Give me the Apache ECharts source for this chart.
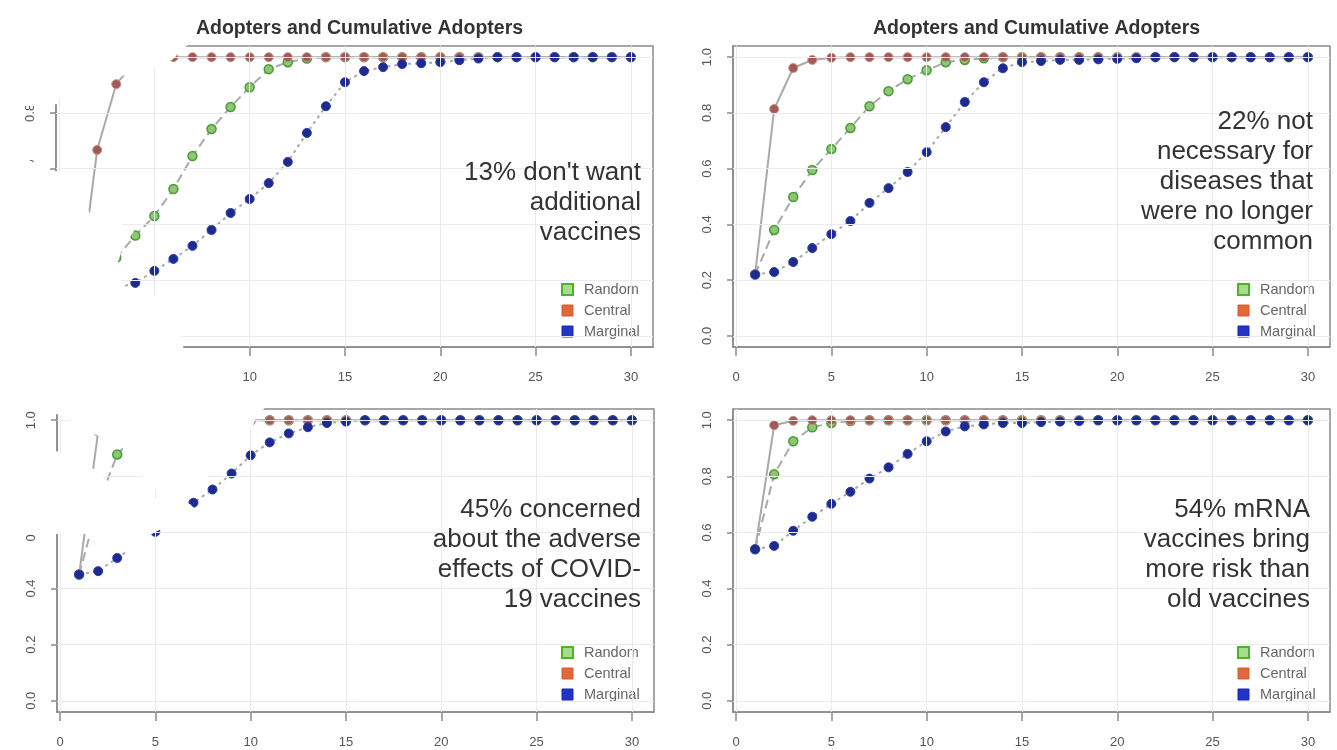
<!DOCTYPE html>
<html>
<head>
<meta charset="utf-8">
<script src="https://cdn.jsdelivr.net/npm/echarts@6/dist/echarts.min.js"></script>
<style>
html,body{margin:0;padding:0;background:#fff;}
#chart{width:1337px;height:750px;}
</style>
</head>
<body>
<div id="chart"></div>
<script>
// ---------------- data ----------------
const steps = [1,2,3,4,5,6,7,8,9,10,11,12,13,14,15,16,17,18,19,20,21,22,23,24,25,26,27,28,29,30];
const xTicks = [0,5,10,15,20,25,30];
const yTicks = [0,0.2,0.4,0.6,0.8,1.0];
const yTickLabels = ['0.0','0.2','0.4','0.6','0.8','1.0'];
const seriesNames = ['Random','Central','Marginal'];
const panelTitle = 'Adopters and Cumulative Adopters';

// panel 1 (top-left): 13% don't want additional vaccines
const tlRandom   = [0.13,0.21,0.28,0.36,0.43,0.527,0.645,0.742,0.821,0.892,0.957,0.982,0.995,1,1,1,1,1,1,1,1,1,1,1,1,1,1,1,1,1];
const tlCentral  = [0.13,0.667,0.903,0.985,0.998,1,1,1,1,1,1,1,1,1,1,1,1,1,1,1,1,1,1,1,1,1,1,1,1,1];
const tlMarginal = [0.13,0.15,0.17,0.19,0.233,0.276,0.323,0.38,0.441,0.491,0.548,0.624,0.728,0.824,0.91,0.95,0.964,0.975,0.978,0.982,0.989,0.995,1,1,1,1,1,1,1,1];
// panel 2 (top-right): 22% not necessary
const trRandom   = [0.22,0.38,0.498,0.595,0.67,0.746,0.824,0.878,0.921,0.953,0.982,0.99,0.996,1,1,1,1,1,1,1,1,1,1,1,1,1,1,1,1,1];
const trCentral  = [0.22,0.814,0.961,0.99,0.998,1,1,1,1,1,1,1,1,1,1,1,1,1,1,1,1,1,1,1,1,1,1,1,1,1];
const trMarginal = [0.22,0.229,0.265,0.315,0.365,0.412,0.477,0.53,0.588,0.659,0.749,0.839,0.91,0.96,0.982,0.986,0.99,0.99,0.992,0.994,0.996,1,1,1,1,1,1,1,1,1];
// panel 3 (bottom-left): 45% concerned about adverse effects
const blRandom   = [0.45,0.70,0.878,0.95,0.98,0.99,0.995,1,1,1,1,1,1,1,1,1,1,1,1,1,1,1,1,1,1,1,1,1,1,1];
const blCentral  = [0.45,0.96,0.99,0.998,1,1,1,1,1,1,1,1,1,1,1,1,1,1,1,1,1,1,1,1,1,1,1,1,1,1];
const blMarginal = [0.45,0.462,0.509,0.555,0.602,0.655,0.706,0.753,0.81,0.875,0.921,0.953,0.975,0.99,0.995,1,1,1,1,1,1,1,1,1,1,1,1,1,1,1];
// panel 4 (bottom-right): 54% mRNA more risk
const brRandom   = [0.54,0.807,0.925,0.975,0.99,0.997,1,1,1,1,1,1,1,1,1,1,1,1,1,1,1,1,1,1,1,1,1,1,1,1];
const brCentral  = [0.54,0.982,0.998,1,1,1,1,1,1,1,1,1,1,1,1,1,1,1,1,1,1,1,1,1,1,1,1,1,1,1];
const brMarginal = [0.54,0.552,0.606,0.656,0.702,0.745,0.792,0.832,0.88,0.925,0.96,0.978,0.985,0.99,0.99,0.993,0.995,0.997,1,1,1,1,1,1,1,1,1,1,1,1];

const annotations = [
  ["13% don't want","additional","vaccines"],
  ["22% not","necessary for","diseases that","were no longer","common"],
  ["45% concerned","about the adverse","effects of COVID-","19 vaccines"],
  ["54% mRNA","vaccines bring","more risk than","old vaccines"]
];

// ---------------- layout / style ----------------
const FONT = '"Liberation Sans", Arial, Helvetica, sans-serif';
const panels = [
  {grid:{left:56, top:46, width:597, height:301}, data:[tlRandom,tlCentral,tlMarginal], title:true,  textX:641,  textY:203, legendLeft:556,  legendTop:277},
  {grid:{left:733,top:46, width:597, height:301}, data:[trRandom,trCentral,trMarginal], title:true,  textX:1313, textY:182, legendLeft:1232, legendTop:277},
  {grid:{left:57, top:409,width:597, height:303}, data:[blRandom,blCentral,blMarginal], title:false, textX:641,  textY:555, legendLeft:556,  legendTop:640},
  {grid:{left:733,top:409,width:597, height:303}, data:[brRandom,brCentral,brMarginal], title:false, textX:1310, textY:555, legendLeft:1232, legendTop:640}
];

const pointStyles = [
  {color:'#8cc873', borderColor:'#4e9a38', borderWidth:1.5},
  {color:'#a25a55', borderColor:'#c4918c', borderWidth:1},
  {color:'#1d2a8e', borderColor:'#2a3aae', borderWidth:1}
];
const lineTypes = [[9,5],'solid',[3,4]];
const legendColors = [
  {color:'#a6dc8c', borderColor:'#50b030', borderWidth:2},
  {color:'#e2683a', borderColor:'#d45a2c', borderWidth:1},
  {color:'#2233c8', borderColor:'#1a2ab0', borderWidth:1}
];

const grids = [], xAxes = [], yAxes = [], series = [], legends = [], titles = [], graphics = [];

panels.forEach((p, i) => {
  grids.push(Object.assign({show:true, borderColor:'#8a8a8a', borderWidth:1.5, backgroundColor:'transparent'}, p.grid));
  xAxes.push({
    type:'value', gridIndex:i, min:-0.16, max:31.16,
    axisLine:{show:true, onZero:false, lineStyle:{color:'#8a8a8a', width:1.5}},
    axisTick:{show:true, customValues:xTicks, length:9, lineStyle:{color:'#8a8a8a', width:1.5}},
    axisLabel:{show:true, customValues:xTicks, margin:24, color:'#555', fontSize:13, fontFamily:FONT},
    splitLine:{show:false}
  });
  yAxes.push({
    type:'value', gridIndex:i, min:-0.04, max:1.04,
    axisLine:{show:true, onZero:false, lineStyle:{color:'#8a8a8a', width:1.5}},
    axisTick:{show:true, customValues:yTicks, length:6, lineStyle:{color:'#8a8a8a', width:1.5}},
    axisLabel:{show:true, customValues:yTicks, rotate:90, margin:19, color:'#555', fontSize:13, fontFamily:FONT,
      formatter:(v)=>{const k=yTicks.indexOf(v); return k>=0 ? yTickLabels[k] : v.toFixed(1);}},
    splitLine:{show:false}
  });
  p.data.forEach((vals, s) => {
    const ser = {
      type:'line', name:seriesNames[s], xAxisIndex:i, yAxisIndex:i,
      data: steps.map((x, k) => [x, vals[k]]),
      symbol:'circle', symbolSize:9, showAllSymbol:true,
      lineStyle:{color:'#a9a9a9', width:2, type:lineTypes[s]},
      itemStyle:pointStyles[s],
      emphasis:{disabled:true},
      animation:false, z:2+s
    };
    if (s === 0) {
      ser.markLine = {
        silent:true, symbol:['none','none'], label:{show:false}, animation:false,
        lineStyle:{color:'#ebebeb', type:'solid', width:1},
        data: xTicks.map(v=>({xAxis:v})).concat(yTicks.map(v=>({yAxis:v})))
      };
    }
    series.push(ser);
  });
  legends.push({
    orient:'vertical', left:p.legendLeft, top:p.legendTop,
    itemWidth:11, itemHeight:11, itemGap:6, selectedMode:false,
    textStyle:{color:'#666', fontSize:14.5, fontFamily:FONT, padding:[0,0,0,6], lineHeight:14},
    data: seriesNames.map((n, s)=>({name:n, icon:'rect', itemStyle:legendColors[s]}))
  });
  if (p.title) {
    titles.push({
      text:panelTitle, left:p.grid.left + p.grid.width/2, top:14, textAlign:'center',
      textStyle:{fontSize:19.5, fontWeight:'bold', color:'#333', fontFamily:FONT}
    });
  }
  graphics.push({
    type:'text', z:60, x:p.textX, y:p.textY,
    style:{text:annotations[i].join('\n'), textAlign:'right', textVerticalAlign:'middle',
      font:'26px ' + FONT, fill:'#333', lineHeight:30}
  });
});

// white occlusion shapes present in the reference picture
const masks = [
  [[0,8],[194,8],[194,40],[184,48],[172,60],[150,70],[128,75],[110,77],[72,79],[62,90],[58,104],[40,106],[0,106]],
  [[0,150],[14,153],[50,170],[60,172],[78,180],[84,200],[90,214],[118,222],[134,231],[128,240],[121,252],[118,262],[122,285],[130,292],[158,297],[176,318],[184,350],[186,396],[0,396]],
  [[38,392],[264,392],[268,404],[256,418],[250,432],[238,446],[222,462],[204,480],[186,494],[170,500],[150,486],[135,468],[122,447],[100,437],[62,416],[40,408]],
  [[0,444],[30,446],[60,452],[85,462],[108,481],[130,494],[160,500],[190,504],[198,512],[180,522],[165,527],[150,535],[145,552],[128,552],[118,540],[90,534],[0,534]]
];
masks.forEach(pts => graphics.push({type:'polygon', z:50, shape:{points:pts}, style:{fill:'#ffffff'}, silent:true}));

const chart = echarts.init(document.getElementById('chart'), null, {renderer:'canvas'});
chart.setOption({
  backgroundColor:'#ffffff',
  animation:false,
  title:titles,
  legend:legends,
  grid:grids,
  xAxis:xAxes,
  yAxis:yAxes,
  series:series,
  graphic:{elements:graphics}
});
</script>
</body>
</html>
